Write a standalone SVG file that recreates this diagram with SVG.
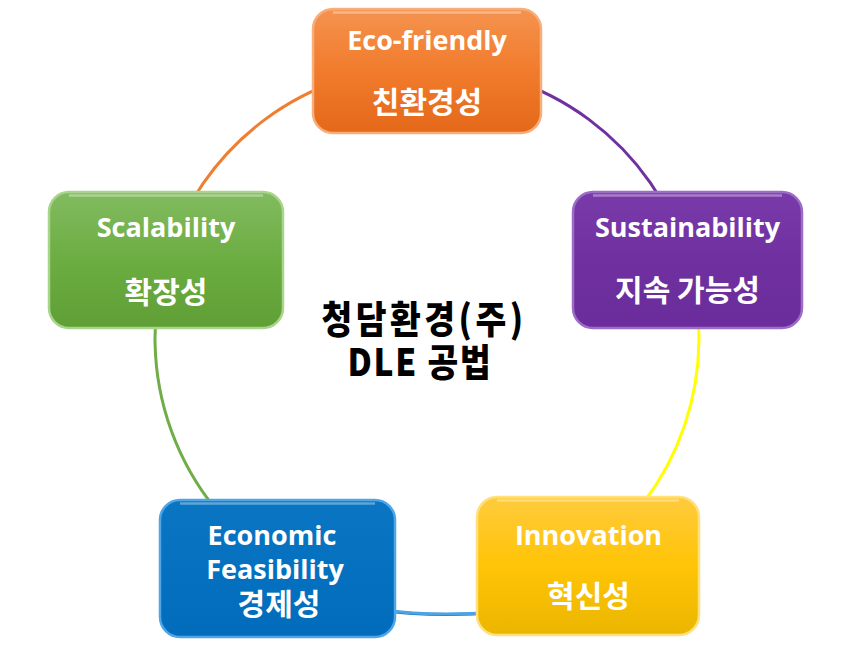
<svg xmlns="http://www.w3.org/2000/svg" width="842" height="672" viewBox="0 0 842 672">
<defs>
<linearGradient id="gOrange" x1="0" y1="0" x2="0" y2="1">
<stop offset="0" stop-color="#F5934F"/><stop offset="0.5" stop-color="#F17B2C"/><stop offset="1" stop-color="#E4681A"/>
</linearGradient>
<linearGradient id="gPurple" x1="0" y1="0" x2="0" y2="1">
<stop offset="0" stop-color="#7A3BAA"/><stop offset="0.5" stop-color="#7030A0"/><stop offset="1" stop-color="#6B2D9B"/>
</linearGradient>
<linearGradient id="gGreen" x1="0" y1="0" x2="0" y2="1">
<stop offset="0" stop-color="#82BB60"/><stop offset="0.5" stop-color="#6CAD42"/><stop offset="1" stop-color="#5F9F35"/>
</linearGradient>
<linearGradient id="gBlue" x1="0" y1="0" x2="0" y2="1">
<stop offset="0" stop-color="#0A75C3"/><stop offset="1" stop-color="#006CBB"/>
</linearGradient>
<linearGradient id="gYellow" x1="0" y1="0" x2="0" y2="1">
<stop offset="0" stop-color="#FFCB3D"/><stop offset="0.5" stop-color="#FFC406"/><stop offset="1" stop-color="#EBB600"/>
</linearGradient>
<linearGradient id="gShine" x1="0" y1="0" x2="0" y2="1">
<stop offset="0" stop-color="#FFFFFF" stop-opacity="0.55"/><stop offset="1" stop-color="#FFFFFF" stop-opacity="0"/>
</linearGradient>
</defs>
<style>
.box{stroke-width:2.5}
.shine{fill:none;stroke:#FFFFFF;stroke-opacity:0.35;stroke-width:2.5}
.t{font-family:"Open Sans","Noto Sans CJK KR",sans-serif;font-weight:700;font-size:27px;fill:#FFFFFF;text-anchor:middle}
.k{font-family:"Noto Sans CJK KR","Open Sans",sans-serif;font-weight:700;font-size:30px;fill:#FFFFFF;text-anchor:middle}
.title{font-family:"Noto Sans CJK KR",sans-serif;font-weight:900;font-size:38px;fill:#000000;text-anchor:middle}
.arc{fill:none;stroke-width:3}
</style>
<g id="connectors">
<path class="arc" stroke="#F07E30" d="M166.6,259.4 A272,272 0 0 1 427,66"/>
<path class="arc" stroke="#7030A0" d="M427,66 A272,272 0 0 1 687.1,258.5"/>
<path class="arc" stroke="#FFFF00" d="M687.1,258.5 A272,272 0 0 1 584.6,559.7"/>
<path class="arc" stroke="#0B70C0" stroke-width="4.5" d="M380,610 Q436,618 500,612"/>
<path class="arc" stroke="#4FA3E3" stroke-width="1.2" d="M380,609.5 Q436,617.5 500,611.5"/>
<path class="arc" stroke="#70AD47" d="M278.1,565.6 A272,272 0 0 1 166.6,259.4"/>
</g>
<g id="node-eco">
<rect class="box" x="313" y="9" width="228" height="124" rx="20" fill="url(#gOrange)" stroke="#F8AE7B"/>
<path class="shine" d="M333,12.5 H521"/>
<text class="t" x="427" y="50" font-size="28">Eco-friendly</text>
<text class="k" x="427" y="113">친환경성</text>
</g>
<g id="node-sustainability">
<rect class="box" x="573" y="192" width="229" height="136" rx="20" fill="url(#gPurple)" stroke="#9C6CC6"/>
<path class="shine" d="M593,195.5 H782"/>
<text class="t" x="687.5" y="237">Sustainability</text>
<text class="k" x="687.5" y="301">지속 가능성</text>
</g>
<g id="node-scalability">
<rect class="box" x="49" y="192" width="234" height="136" rx="20" fill="url(#gGreen)" stroke="#A8D48C"/>
<path class="shine" d="M69,195.5 H263"/>
<text class="t" x="166" y="237">Scalability</text>
<text class="k" x="166" y="303">확장성</text>
</g>
<g id="node-economic">
<rect class="box" x="160" y="500" width="235" height="137" rx="20" fill="url(#gBlue)" stroke="#4FA6E6"/>
<path class="shine" d="M180,503.5 H375"/>
<text class="t" x="272" y="545">Economic</text>
<text class="t" x="275" y="579">Feasibility</text>
<text class="k" x="279" y="615">경제성</text>
</g>
<g id="node-innovation">
<rect class="box" x="477" y="497" width="222" height="138" rx="20" fill="url(#gYellow)" stroke="#FFE07A"/>
<path class="shine" d="M497,500.5 H679"/>
<text class="t" x="588.5" y="545">Innovation</text>
<text class="k" x="588.5" y="607">혁신성</text>
</g>
<g id="title">
<text class="title" transform="translate(424,0) scale(0.88,1)" x="0" y="333" letter-spacing="4">청담환경(주)</text>
<text class="title" transform="translate(420,0) scale(0.88,1)" x="0" y="376" letter-spacing="2">DLE 공법</text>
</g>
</svg>
